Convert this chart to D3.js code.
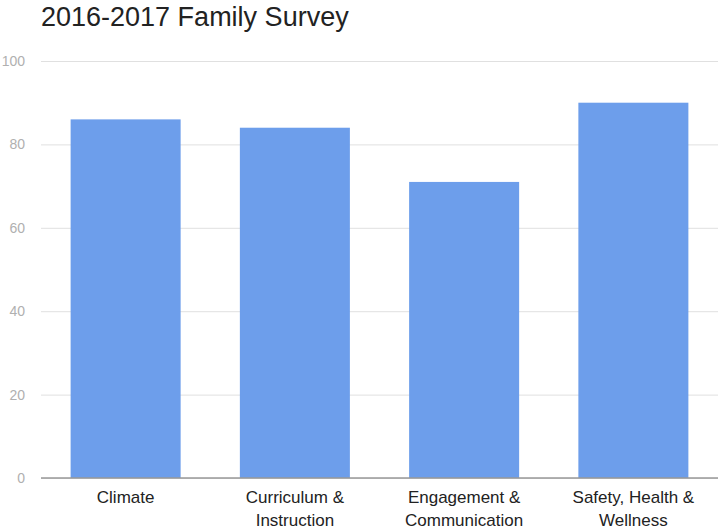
<!DOCTYPE html>
<html>
<head>
<meta charset="utf-8">
<script src="https://cdn.jsdelivr.net/npm/d3@7"></script>
<style>
  body { margin: 0; background: #fff; }
  svg { font-family: "Liberation Sans", Arial, sans-serif; }
  .title { font-size: 27px; fill: #222; }
  .yaxis text { font-size: 14px; fill: #b0b0b0; }
  .xlabel { font-size: 17px; fill: #222; }
</style>
</head>
<body>
<svg width="718" height="531"></svg>
<script>
// chart data
var categories = ["Climate", "Curriculum & Instruction", "Engagement & Communication", "Safety, Health & Wellness"];
var catLines = [["Climate"], ["Curriculum &", "Instruction"], ["Engagement &", "Communication"], ["Safety, Health &", "Wellness"]];
var scores = [86, 84, 71, 90];
var yTicks = [0, 20, 40, 60, 80, 100];

var svg = d3.select("svg"),
    margin = {top: 61, right: 0, bottom: 53, left: 41},
    width = 718 - margin.left - margin.right,
    height = 531 - margin.top - margin.bottom;

// scales
var x_scale = d3.scaleBand()
    .domain(categories)
    .range([0, width])
    .paddingInner(0.35)
    .paddingOuter(0.175);

var y_scale = d3.scaleLinear()
    .domain([0, 100])
    .range([height, 0]);

var g = svg.append("g")
    .attr("transform", "translate(" + margin.left + "," + margin.top + ")");

// title
svg.append("text")
    .attr("class", "title")
    .attr("x", margin.left)
    .attr("y", 26)
    .text("2016-2017 Family Survey");

// gridlines + y labels
var yAxis = d3.axisLeft(y_scale)
    .tickValues(yTicks)
    .tickSize(-width)
    .tickPadding(16);

g.append("g")
    .attr("class", "yaxis")
    .call(yAxis)
    .call(function(a) {
      a.select(".domain").remove();
      a.selectAll("line").attr("stroke", "#e0e0e0");
      a.selectAll("text").attr("font-family", null).attr("font-size", null).attr("fill", null);
    });

// bars
g.selectAll("rect.bar")
    .data(scores)
    .enter()
    .append("rect")
    .attr("class", "bar")
    .attr("x", function(d, i) { return x_scale(categories[i]); })
    .attr("y", function(d) { return y_scale(d); })
    .attr("width", x_scale.bandwidth())
    .attr("height", function(d) { return height - y_scale(d); })
    .attr("fill", "#6d9eeb");

// baseline
g.append("line")
    .attr("x1", 0)
    .attr("x2", width)
    .attr("y1", y_scale(0))
    .attr("y2", y_scale(0))
    .attr("stroke", "#999")
    .attr("stroke-width", 1.5);

// category labels
var labels = g.selectAll("text.xlabel")
    .data(catLines)
    .enter()
    .append("text")
    .attr("class", "xlabel")
    .attr("text-anchor", "middle")
    .attr("x", function(d, i) { return x_scale(categories[i]) + x_scale.bandwidth() / 2; })
    .attr("y", height + 25);

labels.selectAll("tspan")
    .data(function(d) { return d; })
    .enter()
    .append("tspan")
    .attr("x", function() { return d3.select(this.parentNode).attr("x"); })
    .attr("dy", function(d, i) { return i == 0 ? 0 : 23; })
    .text(function(d) { return d; });
</script>
</body>
</html>
